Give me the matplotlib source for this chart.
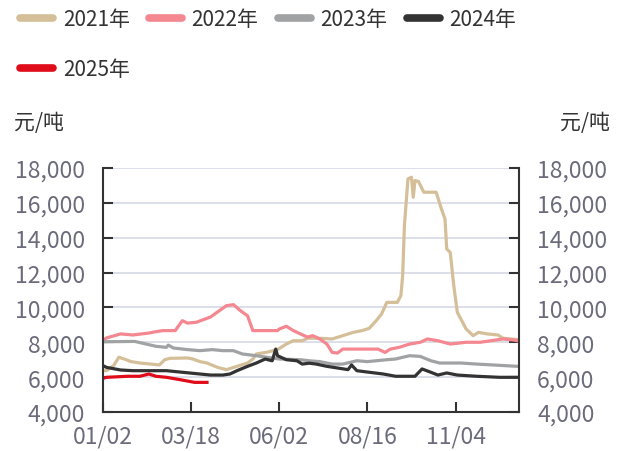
import matplotlib
matplotlib.use("Agg")
import matplotlib.pyplot as plt
from matplotlib.ticker import FuncFormatter

plt.rcParams['font.family'] = ['Noto Sans CJK SC', 'DejaVu Sans']

# x positions are trading-day indices; tick labels every 50 trading days
tick_pos = [0, 50, 100, 150, 200]
tick_labels = ["01/02", "03/18", "06/02", "08/16", "11/04"]

x2021 = [0, 2, 6, 9, 12, 16, 21, 27, 32, 35, 38, 48, 51, 55, 59, 65, 70, 76, 82, 85, 87, 93, 99, 104,
         108, 113, 116, 123, 130, 136, 142, 147, 151, 155, 158, 161, 167, 169, 170, 171, 173, 175, 176,
         177, 179, 182, 189, 192, 194, 195, 197, 199, 200, 201, 204, 206, 210, 213, 218, 224, 227, 236]
y2021 = [6370, 6370, 6660, 7140, 7040, 6890, 6810, 6750, 6700, 7000, 7080, 7100, 7040, 6890, 6810, 6560,
         6430, 6620, 6810, 7040, 7330, 7430, 7580, 7900, 8090, 8090, 8230, 8230, 8190, 8380, 8570, 8670,
         8800, 9240, 9620, 10290, 10290, 10680, 11830, 14700, 17370, 17470, 16320, 17280, 17220, 16610,
         16610, 15650, 15080, 13350, 13160, 11250, 10490, 9720, 9150, 8760, 8380, 8570, 8480, 8420,
         8230, 8150]

x2022 = [0, 2, 10, 17, 26, 30, 34, 41, 45, 48, 53, 61, 65, 70, 74, 78, 82, 85, 99, 100, 104, 108, 112,
         116, 119, 123, 127, 130, 133, 136, 156, 160, 163, 168, 174, 180, 184, 190, 197, 206, 214, 220,
         227, 233, 236]
y2022 = [8100, 8250, 8480, 8420, 8530, 8610, 8670, 8670, 9240, 9100, 9150, 9450, 9740, 10100, 10160,
         9810, 9520, 8670, 8670, 8760, 8920, 8670, 8480, 8300, 8380, 8190, 7900, 7420, 7380, 7610, 7610,
         7420, 7610, 7710, 7900, 8000, 8190, 8090, 7900, 8000, 8000, 8090, 8190, 8130, 8070]

x2023 = [0, 18, 30, 36, 37, 40, 48, 55, 62, 68, 74, 79, 87, 93, 100, 112, 117, 123, 130, 136, 144, 150,
         155, 161, 166, 170, 174, 180, 186, 191, 203, 212, 221, 235]
y2023 = [8030, 8050, 7770, 7710, 7840, 7670, 7580, 7520, 7580, 7520, 7520, 7330, 7230, 7140, 7040, 7000,
         6940, 6890, 6750, 6750, 6940, 6890, 6940, 7000, 7040, 7140, 7230, 7190, 6940, 6810, 6810, 6750,
         6700, 6620]

x2024 = [0, 2, 10, 17, 27, 36, 45, 55, 61, 68, 72, 76, 82, 87, 92, 96, 98, 99, 104, 110, 113, 117, 121,
         127, 134, 139, 141, 144, 151, 159, 166, 177, 181, 186, 190, 195, 201, 212, 225, 235]
y2024 = [6660, 6560, 6410, 6370, 6370, 6370, 6280, 6180, 6120, 6120, 6180, 6370, 6620, 6810, 7040, 6940,
         7610, 7230, 7000, 6940, 6750, 6800, 6750, 6620, 6510, 6430, 6700, 6370, 6280, 6180, 6050, 6050,
         6470, 6280, 6120, 6240, 6120, 6050, 5990, 5990]

x2025 = [0, 2, 14, 21, 26, 30, 36, 44, 52, 59]
y2025 = [5930, 5990, 6050, 6050, 6180, 6050, 5990, 5850, 5700, 5700]

series = [
    ("2021年", x2021, y2021, "#d4bf98"),
    ("2022年", x2022, y2022, "#f4878f"),
    ("2023年", x2023, y2023, "#a0a2a4"),
    ("2024年", x2024, y2024, "#333333"),
    ("2025年", x2025, y2025, "#e00c1a"),
]

fig = plt.figure(figsize=(6.25, 4.52), dpi=100)
ax = fig.add_axes([103 / 625, 39 / 452, 416 / 625, 244 / 452])

tick_color = "#6b6b7b"
handles = []
for name, xs, ys, c in series:
    ln, = ax.plot(xs, ys, color=c, lw=2.3, label=name, solid_joinstyle="round")
    handles.append(ln)

ax.set_xlim(0, 236)
ax.set_ylim(4000, 18000)
ax.set_yticks(range(4000, 18001, 2000))
ax.yaxis.set_major_formatter(FuncFormatter(lambda v, p: f"{int(v):,}"))
ax.set_xticks(tick_pos)
ax.set_xticklabels(tick_labels)
ax.grid(axis="y", color="#d9dce8", lw=1.3)
ax.set_axisbelow(True)

for s in ["left", "right", "bottom"]:
    ax.spines[s].set_color("#333333")
    ax.spines[s].set_linewidth(1.5)
ax.spines["top"].set_visible(False)

ax.tick_params(axis="both", direction="in", length=7, width=1.5, color="#333333",
               labelsize=16.5, labelcolor=tick_color)
ax.tick_params(axis="y", left=True, right=True, labelleft=True, labelright=True, pad=13)
ax.tick_params(axis="x", pad=9)

fig.text(14 / 625, 1 - 123 / 452, "元/吨", fontsize=15, color="#333333", va="center", ha="left")
fig.text(610 / 625, 1 - 123 / 452, "元/吨", fontsize=15, color="#333333", va="center", ha="right")

leg_kw = dict(frameon=False, fontsize=15, handlelength=1.6, handletextpad=0.45,
              columnspacing=0.92, borderaxespad=0, borderpad=0)
leg1 = fig.legend(handles=handles[:4], loc="upper left", bbox_to_anchor=(20 / 625, 1 - 9 / 452),
                  ncol=4, **leg_kw)
leg2 = fig.legend(handles=handles[4:], loc="upper left", bbox_to_anchor=(20 / 625, 1 - 59 / 452),
                  ncol=1, **leg_kw)
for leg in (leg1, leg2):
    for h in leg.get_lines():
        h.set_linewidth(5.5)
        h.set_solid_capstyle("round")
    for t in leg.get_texts():
        t.set_color("#333333")

fig.savefig("out.png", dpi=100)
